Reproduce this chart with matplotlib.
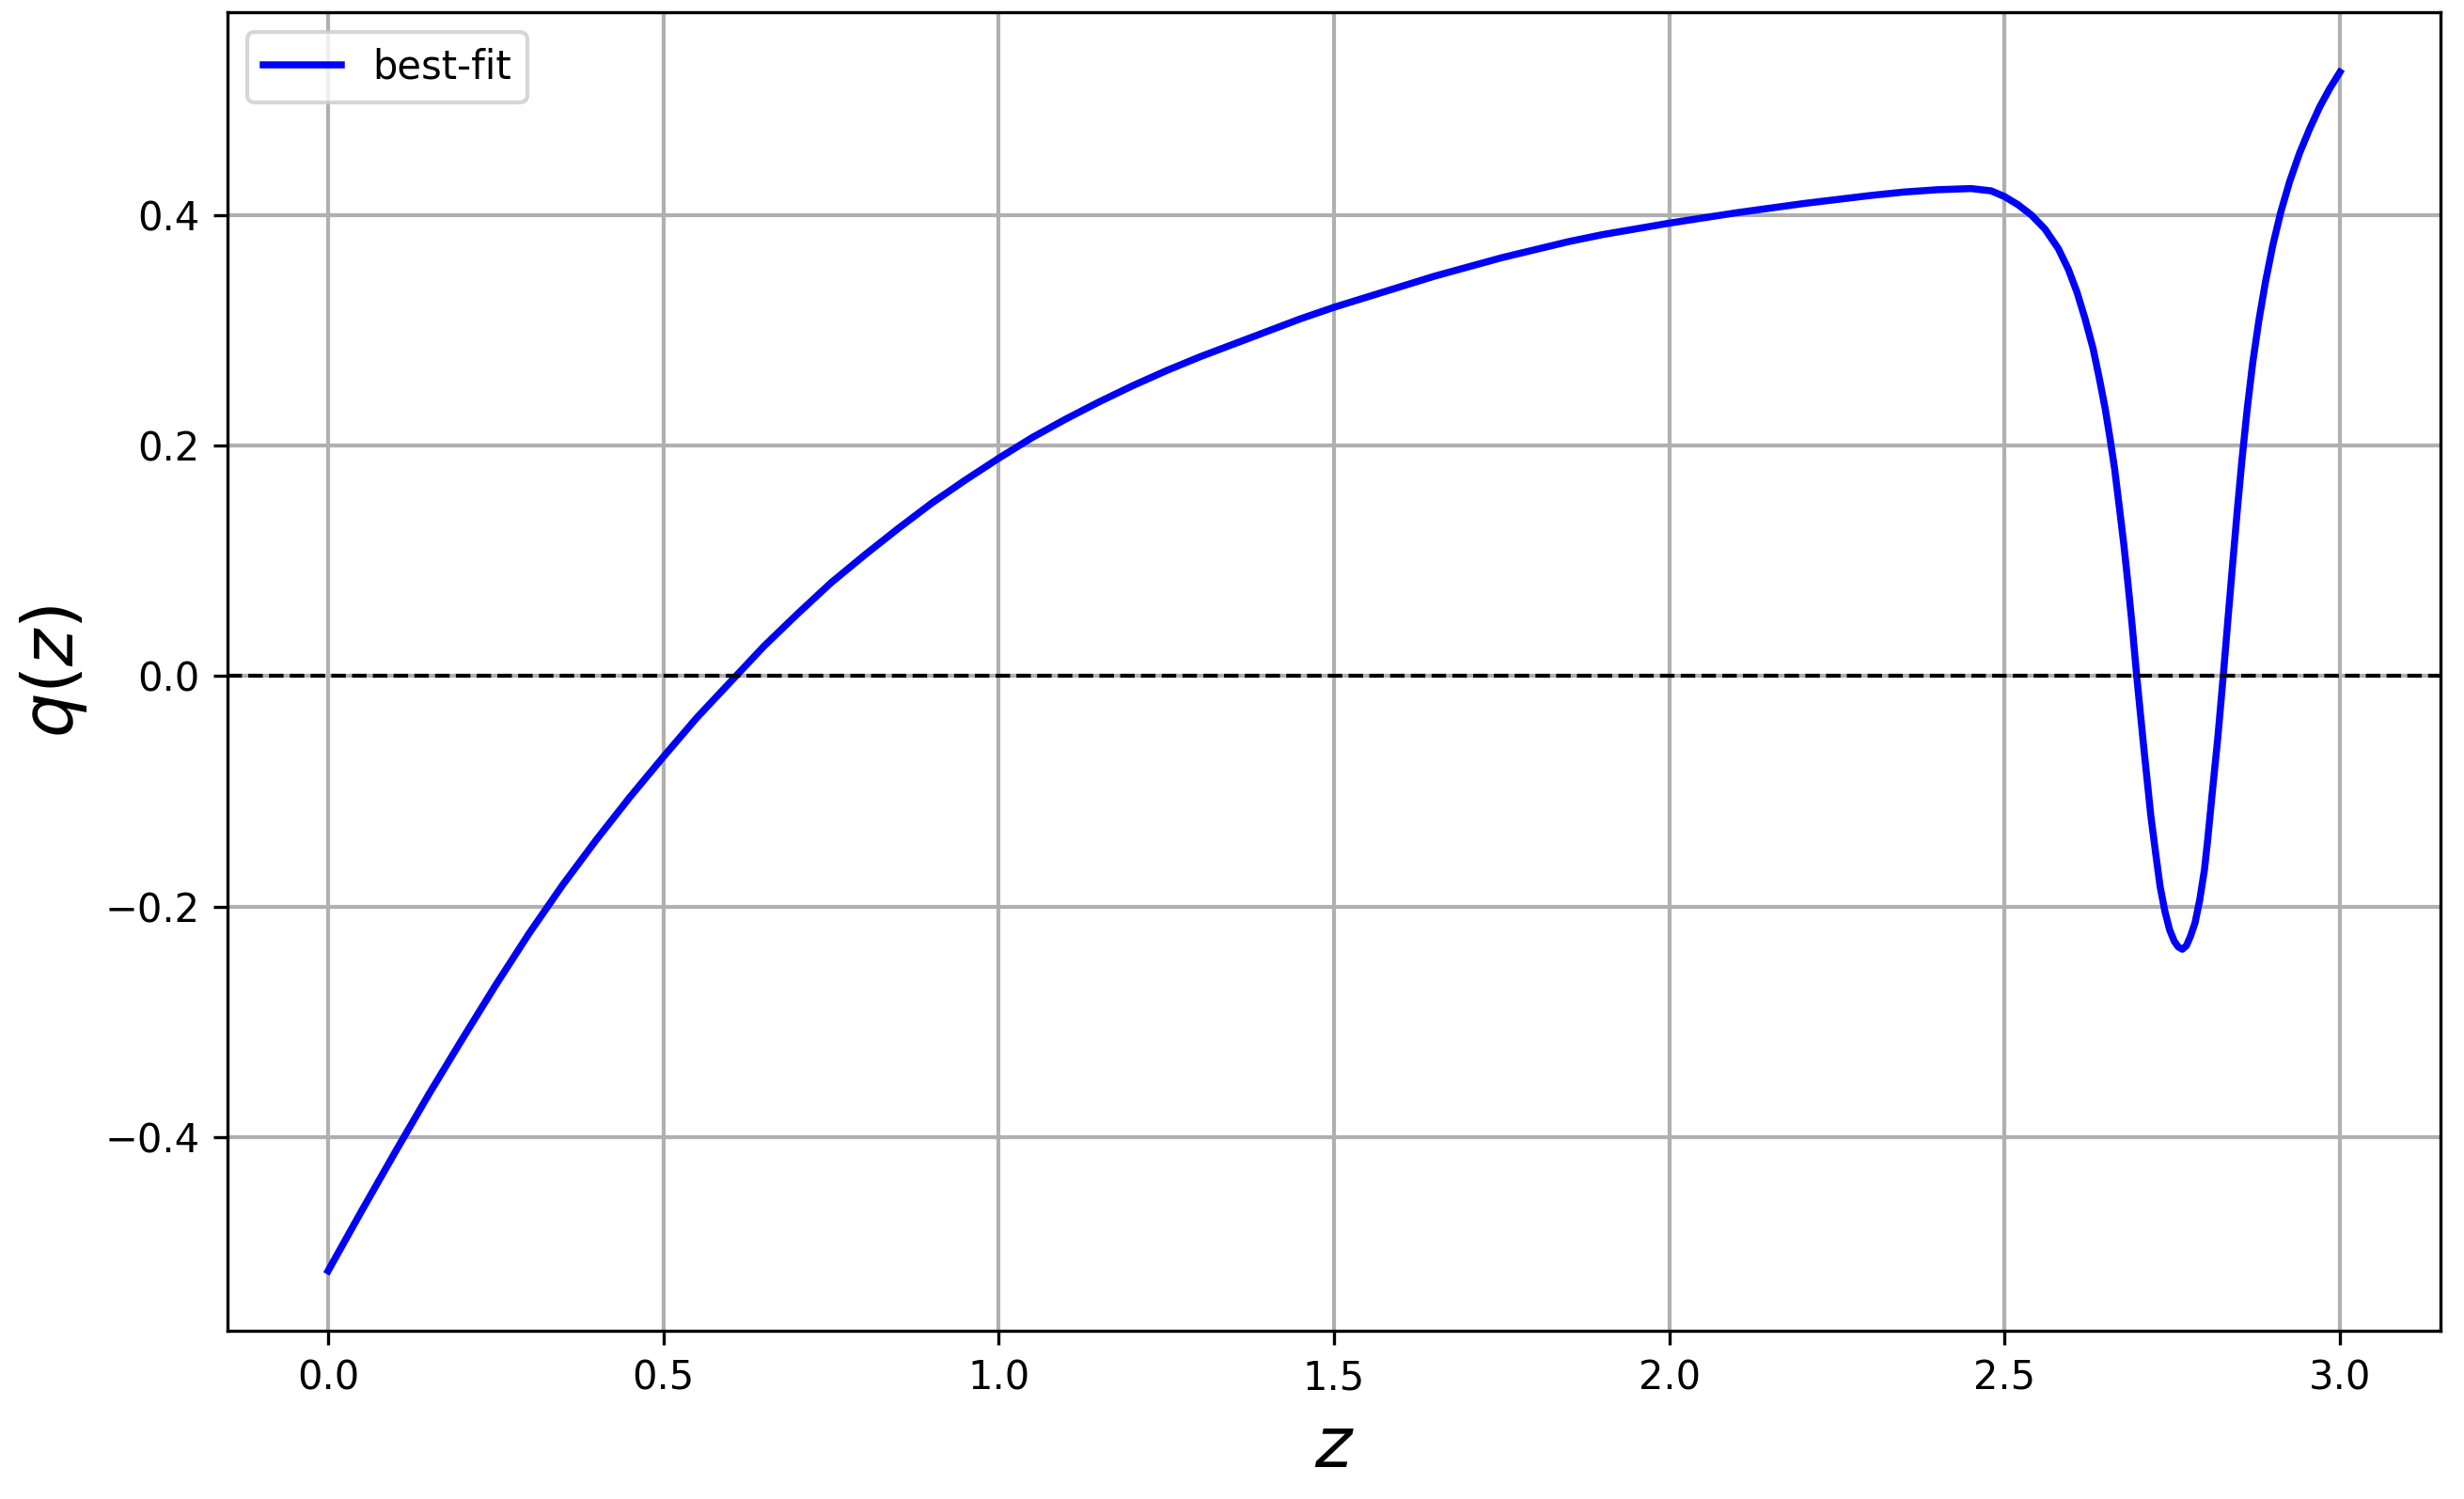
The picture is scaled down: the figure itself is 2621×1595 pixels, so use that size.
import matplotlib
matplotlib.use("Agg")
import matplotlib.pyplot as plt

# values
z_vals = [0.000, 0.050, 0.100, 0.150, 0.200, 0.250, 0.300, 0.350, 0.400, 0.450,
          0.500, 0.550, 0.600, 0.650, 0.700, 0.750, 0.800, 0.850, 0.900, 0.950,
          1.000, 1.050, 1.100, 1.150, 1.200, 1.250, 1.300, 1.350, 1.400, 1.450,
          1.500, 1.550, 1.600, 1.650, 1.700, 1.750, 1.800, 1.850, 1.900, 1.950,
          2.000, 2.100, 2.200, 2.300, 2.350,
          2.400, 2.450, 2.480, 2.500, 2.520, 2.540, 2.560, 2.580, 2.595, 2.608,
          2.620, 2.632, 2.641, 2.650, 2.657, 2.664, 2.671, 2.678, 2.684, 2.690,
          2.697, 2.707, 2.718, 2.726, 2.732, 2.739, 2.746, 2.753, 2.759, 2.765,
          2.771, 2.777, 2.784, 2.791, 2.798, 2.803, 2.809, 2.818, 2.826, 2.833,
          2.840, 2.847, 2.854, 2.862, 2.870, 2.879, 2.889, 2.900, 2.912, 2.925,
          2.940, 2.955, 2.970, 2.985, 3.000]
q_vals = [-0.516, -0.464, -0.413, -0.363, -0.315, -0.268, -0.223, -0.181, -0.142, -0.105,
          -0.070, -0.036, -0.005, 0.026, 0.054, 0.081, 0.105, 0.128, 0.150, 0.170,
          0.189, 0.207, 0.223, 0.238, 0.252, 0.265, 0.277, 0.288, 0.299, 0.310,
          0.320, 0.329, 0.338, 0.347, 0.355, 0.363, 0.370, 0.377, 0.383, 0.388,
          0.393, 0.402, 0.410, 0.417, 0.420,
          0.422, 0.423, 0.421, 0.416, 0.409, 0.400, 0.388, 0.371, 0.353, 0.333,
          0.310, 0.284, 0.259, 0.232, 0.207, 0.180, 0.147, 0.113, 0.080, 0.045,
          0.000, -0.059, -0.121, -0.157, -0.183, -0.204, -0.220, -0.230, -0.235, -0.237,
          -0.234, -0.226, -0.214, -0.194, -0.168, -0.141, -0.105, -0.053, 0.000, 0.049,
          0.097, 0.144, 0.188, 0.233, 0.272, 0.308, 0.342, 0.374, 0.403, 0.429,
          0.454, 0.475, 0.494, 0.510, 0.524]

line_label = "best-fit"
x_label = "$z$"
y_label = "$q(z)$"

fig = plt.figure(figsize=(2621 / 300, 1595 / 300), dpi=300)
ax = fig.add_axes([242 / 2621, 1 - 1416 / 1595, (2596 - 242) / 2621, (1416 - 13) / 1595])

ax.plot(z_vals, q_vals, color="blue", lw=1.8, label=line_label)
ax.axhline(0, color="black", ls="--", lw=1.0)
ax.grid(True, color="#b0b0b0", lw=1.0)
ax.set_xlabel(x_label, fontsize=18)
ax.set_ylabel(y_label, fontsize=18)
ax.legend(loc="upper left")

fig.savefig("out.png", dpi=300)
